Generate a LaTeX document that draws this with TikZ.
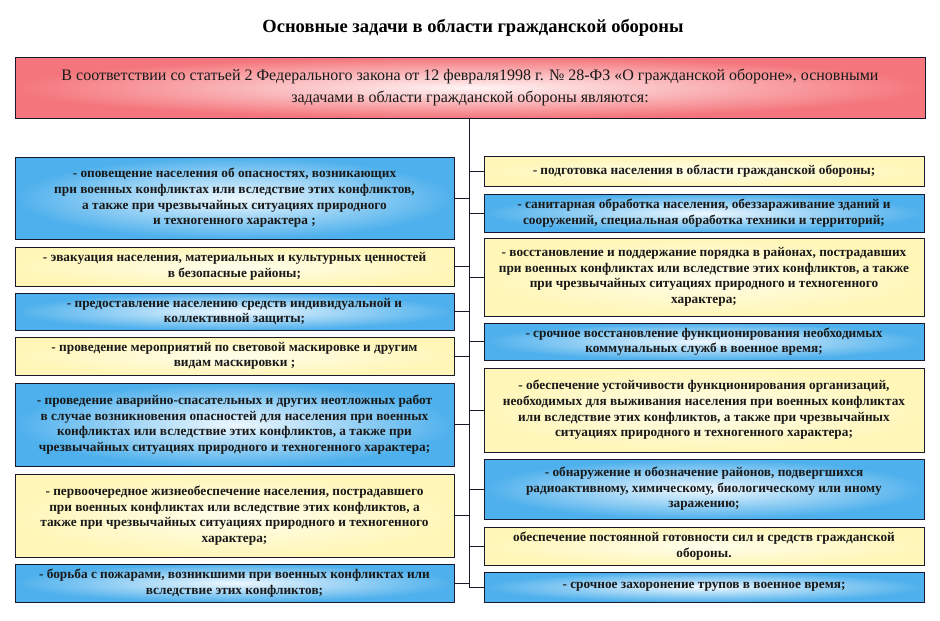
\documentclass[tikz,border=0pt]{standalone}
\usepackage{fontspec}
\setmainfont{Liberation Serif}
\definecolor{bluedge}{RGB}{78,176,236}
\definecolor{bluein}{RGB}{238,248,255}
\definecolor{yeledge}{RGB}{255,246,184}
\definecolor{yelin}{RGB}{255,254,236}
\definecolor{pinkedge}{RGB}{244,118,124}
\definecolor{pinkin}{RGB}{255,244,244}
\definecolor{frame}{RGB}{25,25,45}
\newcommand{\boxfont}{\fontsize{13.3}{15.6}\selectfont\bfseries}
\begin{document}
\begin{tikzpicture}[x=1pt,y=-1pt,
  box/.style={draw=frame, line width=0.9pt, inner sep=0pt, align=center, font=\boxfont, text=black!90},
  lbox/.style={box, minimum width=439pt},
  rbox/.style={box, minimum width=440pt},
  blueb/.style={inner color=bluein, outer color=bluedge},
  yelb/.style={inner color=yelin, outer color=yeledge},
  link/.style={draw=frame, line width=0.8pt}]
\useasboundingbox (0,0) rectangle (940,621);
\fill[white] (0,0) rectangle (940,621);

\node[font=\fontsize{18.5}{22}\selectfont\bfseries] (title) at (473,28) {Основные задачи в области гражданской обороны};

\node[box, font=\fontsize{16}{22}\selectfont, minimum width=910pt, minimum height=61pt,
      inner color=pinkin, outer color=pinkedge] (head) at (470,87.5)
 {В соответствии со статьей 2 Федерального закона от 12 февраля1998 г. № 28-ФЗ «О гражданской обороне», основными\\
  задачами в области гражданской обороны являются:};

\coordinate (trunk) at (469,118);
\coordinate (tend) at (469,587);

% left column
\node[lbox, blueb, minimum height=82pt] (L1) at (234.5,198)
 {- оповещение населения об опасностях, возникающих\\ при военных конфликтах или вследствие этих конфликтов,\\ а также при чрезвычайных  ситуациях природного\\ и техногенного характера ;};
\node[lbox, yelb, minimum height=39pt] (L2) at (234.5,266.5)
 {- эвакуация населения, материальных  и культурных ценностей\\ в безопасные районы;};
\node[lbox, blueb, minimum height=37pt] (L3) at (234.5,311.5)
 {- предоставление населению средств  индивидуальной и\\ коллективной защиты;};
\node[lbox, yelb, minimum height=38pt] (L4) at (234.5,356)
 {- проведение мероприятий по световой маскировке и другим\\ видам маскировки ;};
\node[lbox, blueb, minimum height=83pt] (L5) at (234.5,424.5)
 {- проведение аварийно-спасательных и других неотложных  работ\\ в случае возникновения опасностей для населения при военных\\ конфликтах или вследствие этих конфликтов, а также при\\ чрезвычайных ситуациях природного и техногенного характера;};
\node[lbox, yelb, minimum height=83pt] (L6) at (234.5,515.5)
 {- первоочередное жизнеобеспечение населения, пострадавшего\\ при военных конфликтах или вследствие этих конфликтов, а\\ также при чрезвычайных  ситуациях природного и техногенного\\ характера;};
\node[lbox, blueb, minimum height=38pt] (L7) at (234.5,583)
 {- борьба с пожарами, возникшими при военных конфликтах или\\ вследствие этих конфликтов;};

% right column
\node[rbox, yelb, minimum height=30pt] (R1) at (704,171)
 {- подготовка населения в  области гражданской обороны;};
\node[rbox, blueb, minimum height=38pt] (R2) at (704,213)
 {- санитарная обработка населения, обеззараживание зданий и\\ сооружений, специальная обработка техники и территорий;};
\node[rbox, yelb, minimum height=78pt] (R3) at (704,277)
 {- восстановление и поддержание порядка в районах, пострадавших\\ при военных конфликтах или вследствие этих конфликтов, а также\\ при чрезвычайных  ситуациях природного и техногенного\\ характера;};
\node[rbox, blueb, minimum height=37pt] (R4) at (704,341.5)
 {- срочное восстановление функционирования необходимых\\ коммунальных служб в военное время;};
\node[rbox, yelb, minimum height=84pt] (R5) at (704,410)
 {- обеспечение устойчивости функционирования организаций,\\ необходимых для выживания населения при военных конфликтах\\ или вследствие этих конфликтов, а также при чрезвычайных\\ ситуациях природного и техногенного характера;};
\node[rbox, blueb, minimum height=60pt] (R6) at (704,489)
 {- обнаружение и обозначение районов, подвергшихся\\ радиоактивному, химическому, биологическому или иному\\ заражению;};
\node[rbox, yelb, minimum height=38pt] (R7) at (704,546)
 {обеспечение постоянной готовности сил и средств гражданской\\ обороны.};
\node[rbox, blueb, minimum height=30pt] (R8) at (704,587)
 {- срочное захоронение трупов в военное время;};

% connectors
\draw[link] (head.south -| trunk) -- (tend);
\foreach \n in {L1,L2,L3,L4,L5,L6,L7}
  \draw[link] (\n.east) -- (\n.east -| trunk);
\foreach \n in {R1,R2,R3,R4,R5,R6,R7,R8}
  \draw[link] (\n.west) -- (\n.west -| trunk);
\end{tikzpicture}
\end{document}
